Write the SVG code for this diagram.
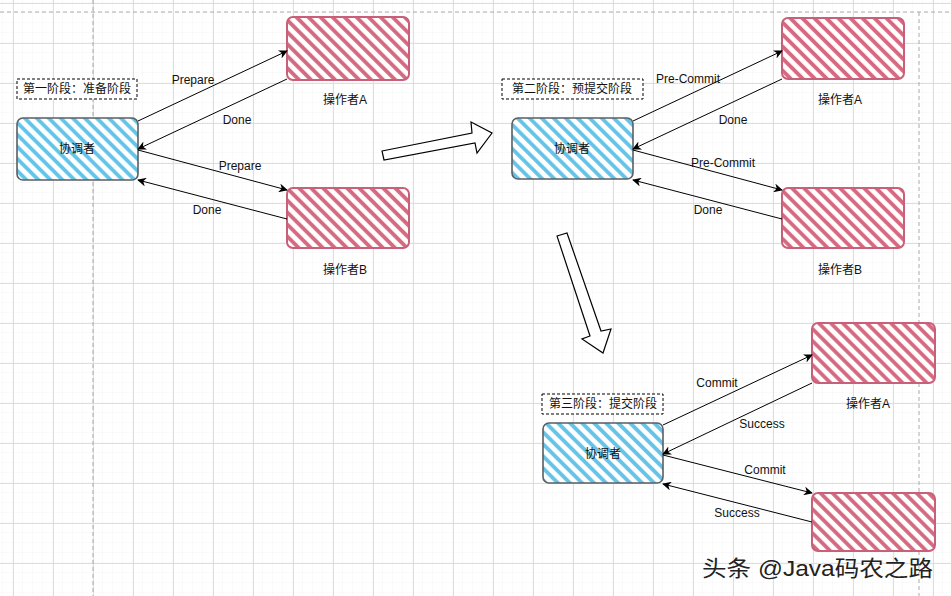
<svg xmlns="http://www.w3.org/2000/svg" width="951" height="596" viewBox="0 0 951 596">
<defs>
<pattern id="gridMinor" width="10" height="10" patternUnits="userSpaceOnUse" x="3" y="3"><path d="M10 0V10M0 10H10" fill="none" stroke="#f5f5f5" stroke-width="1"/></pattern>
<pattern id="gridMajor" width="40" height="40" patternUnits="userSpaceOnUse" x="13" y="3"><path d="M0.5 0V40M0 0.5H40" fill="none" stroke="#dedede" stroke-width="1"/></pattern>
<pattern id="hb" width="8.5" height="8.5" patternUnits="userSpaceOnUse" patternTransform="rotate(-45)"><rect width="8.5" height="8.5" fill="#fff"/><line x1="2" y1="0" x2="2" y2="8.5" stroke="#62c4e8" stroke-width="3.8"/></pattern>
<pattern id="hr" width="8.5" height="8.5" patternUnits="userSpaceOnUse" patternTransform="rotate(-45)"><rect width="8.5" height="8.5" fill="#fff"/><line x1="2" y1="0" x2="2" y2="8.5" stroke="#d6687f" stroke-width="3.8"/></pattern>
<marker id="ah" viewBox="0 0 10 10" refX="9" refY="5" markerWidth="9" markerHeight="9" markerUnits="userSpaceOnUse" orient="auto"><path d="M0 0L10 5L0 10L3 5Z" fill="#000"/></marker>
</defs>
<style>
.coord{fill:url(#hb);stroke:#5a5f63;stroke-width:1.6}
.op{fill:url(#hr);stroke:#c8607a;stroke-width:2}
.lbl{fill:#fff;stroke:#000;stroke-width:1;stroke-dasharray:3 2}
.t{font-family:"Liberation Sans","Noto Sans CJK SC",sans-serif;font-size:12px;fill:#111;text-anchor:middle;dominant-baseline:central}
.c{fill:none;stroke:#000;stroke-width:1;marker-end:url(#ah)}
.big{fill:#fff;stroke:#000;stroke-width:1.2}
.dash{stroke:#aaa;stroke-width:1;stroke-dasharray:4 3;fill:none}
</style>
<rect width="951" height="596" fill="#fff"/>
<rect width="951" height="596" fill="url(#gridMinor)"/>
<rect width="951" height="596" fill="url(#gridMajor)"/>
<path class="dash" d="M0 12H951M93 0V596M919 12V596"/>

<g id="phase1-label"><rect class="lbl" x="17" y="79" width="120" height="20"/><text class="t" x="77" y="89">第一阶段：准备阶段</text></g>
<g id="coordinator1"><rect class="coord" x="17" y="118" width="121" height="62" rx="6"/><text class="t" x="77" y="149">协调者</text></g>
<g id="op1A"><rect class="op" x="287" y="17" width="122" height="63" rx="6"/><text class="t" x="345" y="100">操作者A</text></g>
<g id="op1B"><rect class="op" x="287" y="188" width="122" height="60" rx="6"/><text class="t" x="345" y="270">操作者B</text></g>

<g id="phase2-label"><rect class="lbl" x="502" y="79" width="141" height="20"/><text class="t" x="572" y="89">第二阶段：预提交阶段</text></g>
<g id="coordinator2"><rect class="coord" x="512" y="118" width="121" height="61" rx="6"/><text class="t" x="572" y="149">协调者</text></g>
<g id="op2A"><rect class="op" x="782" y="18" width="122" height="61" rx="6"/><text class="t" x="840" y="100">操作者A</text></g>
<g id="op2B"><rect class="op" x="782" y="188" width="122" height="60" rx="6"/><text class="t" x="840" y="270">操作者B</text></g>

<g id="phase3-label"><rect class="lbl" x="542" y="394" width="121" height="20"/><text class="t" x="603" y="404">第三阶段：提交阶段</text></g>
<g id="coordinator3"><rect class="coord" x="543" y="423" width="120" height="60" rx="6"/><text class="t" x="603" y="454">协调者</text></g>
<g id="op3A"><rect class="op" x="812" y="323" width="123" height="60" rx="6"/><text class="t" x="868" y="404">操作者A</text></g>
<g id="op3B"><rect class="op" x="812" y="493" width="123" height="58" rx="6"/></g>

<g id="transition-arrows">
<polygon class="big" points="382,151 472,133 471,122 492,133 477,153 475,143 384,160"/>
<polygon class="big" points="557,236 567,233 601,331 611,329 603,353 582,339 590,336"/>
</g>

<g id="connectors">
<line class="c" x1="138" y1="121" x2="287" y2="51"/>
<line class="c" x1="287" y1="79" x2="138" y2="149"/>
<line class="c" x1="138" y1="150" x2="287" y2="190"/>
<line class="c" x1="287" y1="219" x2="138" y2="180"/>
<line class="c" x1="633" y1="121" x2="782" y2="51"/>
<line class="c" x1="782" y1="79" x2="633" y2="149"/>
<line class="c" x1="633" y1="150" x2="782" y2="190"/>
<line class="c" x1="782" y1="219" x2="633" y2="180"/>
<line class="c" x1="663" y1="425" x2="812" y2="355"/>
<line class="c" x1="812" y1="383" x2="663" y2="454"/>
<line class="c" x1="663" y1="455" x2="812" y2="493"/>
<line class="c" x1="812" y1="522" x2="663" y2="484"/>
<text class="t" x="193" y="80">Prepare</text>
<text class="t" x="237" y="120">Done</text>
<text class="t" x="240" y="166">Prepare</text>
<text class="t" x="207" y="210">Done</text>
<text class="t" x="688" y="79">Pre-Commit</text>
<text class="t" x="733" y="120">Done</text>
<text class="t" x="723" y="163">Pre-Commit</text>
<text class="t" x="708" y="210">Done</text>
<text class="t" x="717" y="383">Commit</text>
<text class="t" x="762" y="424">Success</text>
<text class="t" x="765" y="470">Commit</text>
<text class="t" x="737" y="513">Success</text>
</g>

<text x="702" y="576" textLength="231" lengthAdjust="spacingAndGlyphs" style="font-family:'Liberation Sans','Noto Sans CJK SC',sans-serif;font-size:22px;fill:#222;stroke:#fff;stroke-width:0.6;paint-order:stroke">头条 @Java码农之路</text>
</svg>
